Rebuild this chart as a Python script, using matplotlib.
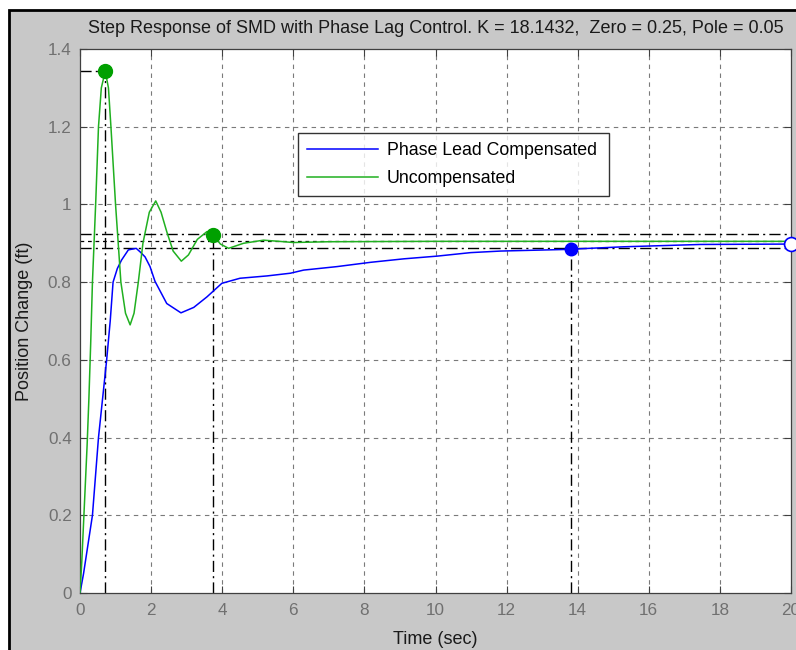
import numpy as np
import matplotlib
matplotlib.use("Agg")
import matplotlib.pyplot as plt
from matplotlib.patches import Rectangle

# values
t_unc = [0, 0.05, 0.1, 0.15, 0.2, 0.25, 0.3, 0.35, 0.44, 0.52, 0.6, 0.71, 0.8, 0.87,
         1.0, 1.15, 1.28, 1.41, 1.52, 1.64, 1.77, 1.95, 2.13, 2.28, 2.44, 2.62, 2.85,
         3.05, 3.3, 3.57, 3.74, 3.95, 4.18, 4.6, 5.16, 5.6, 6.0, 7.0, 10.0, 15.0, 20.0]
y_unc = [0, 0.08, 0.18, 0.28, 0.38, 0.5, 0.64, 0.8, 1.0, 1.2, 1.3, 1.343, 1.3, 1.2,
         1.0, 0.8, 0.72, 0.69, 0.72, 0.8, 0.9, 0.98, 1.009, 0.98, 0.93, 0.88, 0.854,
         0.87, 0.91, 0.93, 0.921, 0.898, 0.887, 0.9, 0.908, 0.905, 0.902, 0.904, 0.905, 0.905, 0.905]

t_lead = [0, 0.1, 0.2, 0.35, 0.52, 0.75, 0.85, 0.93, 1.05, 1.17, 1.36, 1.58, 1.69, 1.83,
          1.97, 2.11, 2.44, 2.84, 3.2, 3.57, 3.99, 4.5, 5.26, 5.92, 6.29, 7.23, 8.17,
          9.11, 10.05, 10.99, 11.83, 13.6, 15.3, 17.46, 20.0]
y_lead = [0, 0.05, 0.11, 0.2, 0.4, 0.6, 0.7, 0.8, 0.835, 0.857, 0.883, 0.887, 0.878, 0.865,
          0.84, 0.802, 0.745, 0.721, 0.735, 0.762, 0.797, 0.81, 0.816, 0.823, 0.831, 0.84, 0.851,
          0.86, 0.867, 0.876, 0.88, 0.884, 0.891, 0.897, 0.898]

# characteristic points: peak / settling (uncompensated), settling / final (lead)
unc_peak = (0.71, 1.343)
unc_settle = (3.74, 0.921)
lead_settle = (13.8, 0.886)
lead_final = (20.0, 0.898)
band_levels = [0.923, 0.905, 0.887]

xticks = np.arange(0, 21, 2)
yticks = np.arange(0, 1.41, 0.2)
ytick_labels = ['0', '0.2', '0.4', '0.6', '0.8', '1', '1.2', '1.4']

title = 'Step Response of SMD with Phase Lag Control. K = 18.1432,  Zero = 0.25, Pole = 0.05'

plt.rcParams['font.family'] = ['Liberation Sans', 'DejaVu Sans']

fig = plt.figure(figsize=(7.96, 6.5), dpi=100)
fig.patch.set_facecolor('white')
fig.patches.append(Rectangle((9 / 796, -0.05), 2.0, 1 - 10 / 650 + 0.05,
                             transform=fig.transFigure, facecolor='#c8c8c8',
                             edgecolor='black', lw=2, zorder=-10))

ax = fig.add_axes([80 / 796, 57 / 650, 711 / 796, 544 / 650])
ax.set_facecolor('white')

grid_style = dict(color='#7a7a7a', lw=0.8, linestyle=(0, (4, 4)), zorder=1)
dashdot = dict(color='black', lw=1.0, linestyle=(0, (8, 3, 1.5, 3)), zorder=2)

for x in xticks[1:-1]:
    ax.axvline(x, **grid_style)
for y in yticks[1:-1]:
    ax.axhline(y, **grid_style)

# characteristic guide lines
ax.plot([0, unc_peak[0]], [unc_peak[1], unc_peak[1]], **dashdot)
ax.plot([unc_peak[0], unc_peak[0]], [0, unc_peak[1]], **dashdot)
ax.plot([unc_settle[0], unc_settle[0]], [0, unc_settle[1]], **dashdot)
ax.plot([lead_settle[0], lead_settle[0]], [0, lead_settle[1]], **dashdot)
ax.axhline(band_levels[0], **dashdot)
ax.axhline(band_levels[2], **dashdot)
ax.axhline(band_levels[1], color='black', lw=0.9, linestyle=(0, (3, 3)), zorder=2)

ax.plot(t_lead, y_lead, color='#0000ff', lw=1.1, label='Phase Lead Compensated', zorder=3)
ax.plot(t_unc, y_unc, color='#20b020', lw=1.1, label='Uncompensated', zorder=3)

ax.plot(*unc_peak, 'o', color='#00a000', ms=10, zorder=4, clip_on=False)
ax.plot(*unc_settle, 'o', color='#00a000', ms=10, zorder=4)
ax.plot(*lead_settle, 'o', color='#0000ff', ms=9, zorder=4)
ax.plot(*lead_final, 'o', mfc='white', mec='#0000ff', mew=1.2, ms=10, zorder=4, clip_on=False)

ax.set_xlim(0, 20)
ax.set_ylim(0, 1.4)
ax.set_xticks(xticks)
ax.set_yticks(yticks)
ax.set_yticklabels(ytick_labels)
ax.tick_params(direction='in', length=5, width=0.8, color='#404040',
               labelsize=12.3, labelcolor='#707070', top=True, right=True, pad=6)
ax.tick_params(axis='x', pad=7.5)
for s in ax.spines.values():
    s.set_color('#404040')
    s.set_linewidth(0.9)

ax.set_title(title, fontsize=13, color='#1a1a1a', pad=11.5)
ax.set_xlabel('Time (sec)', fontsize=13, color='#1a1a1a', labelpad=9)
ax.set_ylabel('Position Change (ft)', fontsize=13, color='#1a1a1a', labelpad=11)

leg = ax.legend(loc='upper left', bbox_to_anchor=(0.3066, 0.728, 0.4374, 0.1176),
                mode='expand', borderaxespad=0, frameon=True, fancybox=False, fontsize=12.8,
                handlelength=4.0, borderpad=0.5, labelspacing=0.62, handletextpad=0.5)
leg.get_frame().set_edgecolor('black')
leg.get_frame().set_linewidth(1.0)
leg.set_zorder(5)

fig.savefig('out.png', dpi=100, facecolor=fig.get_facecolor())
